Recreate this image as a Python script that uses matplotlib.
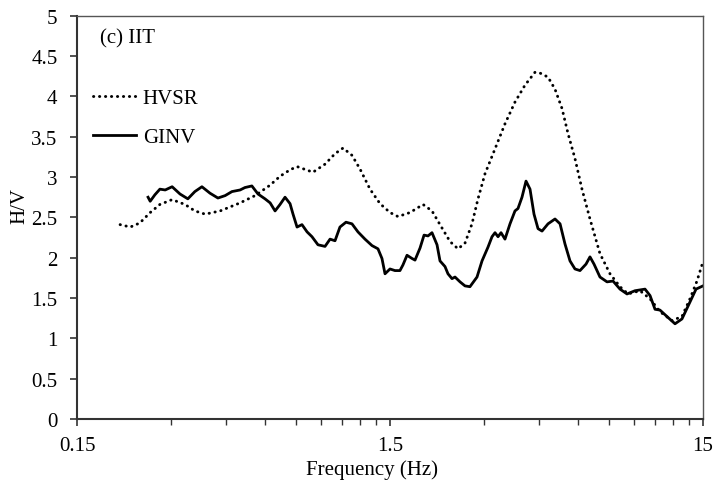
import numpy as np
import matplotlib
matplotlib.use('Agg')
import matplotlib.pyplot as plt
from matplotlib.ticker import FixedLocator, NullFormatter, FixedFormatter

plt.rcParams['font.family'] = ['Liberation Serif', 'DejaVu Serif']

# H/V spectral ratio from noise (HVSR)
hvsr_freq = [0.206, 0.222, 0.238, 0.257, 0.276, 0.302, 0.332, 0.357, 0.385, 0.430,
             0.498, 0.556, 0.621, 0.668, 0.719, 0.757, 0.851, 0.930, 1.001, 1.062,
             1.134, 1.203, 1.295, 1.394, 1.500, 1.591, 1.738, 1.913, 2.043, 2.167,
             2.333, 2.474, 2.604, 2.742, 2.866, 3.017, 3.248, 3.495, 3.762, 4.049,
             4.359, 4.523, 4.797, 5.050, 5.318, 5.557, 5.849, 6.159, 6.532, 7.030,
             7.569, 8.146, 8.641, 9.440, 10.16, 10.93, 11.94, 12.85, 13.63, 14.35,
             15.0]
hvsr_amp = [2.41, 2.38, 2.43, 2.56, 2.66, 2.72, 2.66, 2.58, 2.54, 2.58,
            2.68, 2.77, 2.90, 3.01, 3.09, 3.13, 3.06, 3.16, 3.29, 3.36,
            3.27, 3.10, 2.85, 2.67, 2.56, 2.51, 2.56, 2.66, 2.58, 2.41,
            2.20, 2.11, 2.18, 2.42, 2.73, 3.04, 3.35, 3.66, 3.93, 4.14,
            4.30, 4.29, 4.24, 4.09, 3.85, 3.54, 3.23, 2.85, 2.48, 2.05,
            1.80, 1.64, 1.55, 1.59, 1.49, 1.33, 1.22, 1.27, 1.49, 1.71,
            1.95]

# site response from generalized inversion (GINV)
ginv_freq = [0.253, 0.257, 0.266, 0.276, 0.287, 0.302, 0.320, 0.339, 0.357, 0.376,
             0.399, 0.423, 0.446, 0.469, 0.498, 0.516, 0.543, 0.568, 0.598, 0.621,
             0.644, 0.668, 0.693, 0.719, 0.735, 0.757, 0.785, 0.815, 0.845, 0.883,
             0.930, 0.965, 1.001, 1.038, 1.085, 1.134, 1.185, 1.248, 1.314, 1.373,
             1.414, 1.446, 1.500, 1.556, 1.614, 1.650, 1.700, 1.764, 1.803, 1.871,
             1.927, 1.984, 2.043, 2.120, 2.167, 2.248, 2.298, 2.367, 2.420, 2.511,
             2.604, 2.701, 2.845, 2.952, 3.084, 3.177, 3.248, 3.321, 3.395, 3.495,
             3.627, 3.762, 3.846, 3.961, 4.080, 4.202, 4.327, 4.457, 4.590, 4.797,
             5.050, 5.241, 5.435, 5.639, 5.849, 6.069, 6.343, 6.532, 6.729, 7.030,
             7.404, 7.739, 8.146, 8.577, 9.096, 9.792, 10.16, 10.54, 10.93, 11.51,
             12.21, 12.85, 13.63, 14.25, 15.0]
ginv_amp = [2.75, 2.70, 2.78, 2.85, 2.84, 2.88, 2.79, 2.73, 2.82, 2.88,
            2.80, 2.74, 2.77, 2.82, 2.84, 2.87, 2.89, 2.79, 2.73, 2.68,
            2.58, 2.66, 2.75, 2.67, 2.54, 2.38, 2.41, 2.32, 2.26, 2.16,
            2.14, 2.23, 2.21, 2.38, 2.44, 2.42, 2.32, 2.23, 2.15, 2.11,
            1.99, 1.80, 1.86, 1.84, 1.84, 1.91, 2.03, 1.99, 1.97, 2.12,
            2.28, 2.27, 2.31, 2.16, 1.96, 1.89, 1.80, 1.74, 1.76, 1.70,
            1.65, 1.64, 1.76, 1.96, 2.13, 2.26, 2.31, 2.26, 2.31, 2.23,
            2.42, 2.58, 2.61, 2.75, 2.95, 2.85, 2.54, 2.36, 2.33, 2.42,
            2.48, 2.42, 2.17, 1.96, 1.86, 1.84, 1.92, 2.01, 1.92, 1.76,
            1.70, 1.71, 1.61, 1.55, 1.59, 1.61, 1.53, 1.36, 1.35, 1.27,
            1.18, 1.24, 1.45, 1.61, 1.65]

major_ticks = [0.15, 1.5, 15]
minor_ticks = [k * 0.15 for k in range(2, 10)] + [k * 1.5 for k in range(2, 10)]
fs = 15

fig = plt.figure(figsize=(7.15, 4.81), dpi=100)
ax = fig.add_axes([0.1077, 0.127, 0.8755, 0.838])

ax.plot(hvsr_freq, hvsr_amp, color='black', lw=2.1, ls=(0, (0.1, 1.95)),
        dash_capstyle='round', label='HVSR')
ax.plot(ginv_freq, ginv_amp, color='black', lw=2.0, label='GINV')

ax.set_xscale('log')
ax.set_xlim(0.15, 15)
ax.set_ylim(0, 5)
ax.xaxis.set_major_locator(FixedLocator(major_ticks))
ax.xaxis.set_major_formatter(FixedFormatter(['0.15', '1.5', '15']))
ax.xaxis.set_minor_locator(FixedLocator(minor_ticks))
ax.xaxis.set_minor_formatter(NullFormatter())
ax.set_yticks(np.arange(0, 5.01, 0.5))
ax.set_yticklabels(['0', '0.5', '1', '1.5', '2', '2.5', '3', '3.5', '4', '4.5', '5'])

ax.tick_params(axis='both', which='major', direction='out', length=5, width=1.2,
               labelsize=fs, color='#333333')
ax.tick_params(axis='y', which='major', pad=9)
ax.tick_params(axis='x', which='major', pad=7)
ax.tick_params(axis='x', which='minor', direction='out', length=4, width=1.0,
               color='#333333')
for side in ['left', 'bottom']:
    ax.spines[side].set_linewidth(1.5)
    ax.spines[side].set_color('#333333')
for side in ['top', 'right']:
    ax.spines[side].set_linewidth(1.0)
    ax.spines[side].set_color('#555555')

ax.set_xlabel('Frequency (Hz)', fontsize=fs, va='center', ha='center')
ax.xaxis.set_label_coords(0.471, -0.125)
ax.set_ylabel('H/V', fontsize=fs, va='center', ha='center')
ax.yaxis.set_label_coords(-0.091, 0.53)

ax.text(0.037, 0.945, '(c) IIT', transform=ax.transAxes, fontsize=fs,
        ha='left', va='center')
ax.legend(loc='upper left', bbox_to_anchor=(0.025, 0.82), frameon=False,
          fontsize=fs, handlelength=2.1, handletextpad=0.3, labelspacing=0.95,
          borderpad=0, borderaxespad=0)

fig.savefig('out.png', dpi=100)
